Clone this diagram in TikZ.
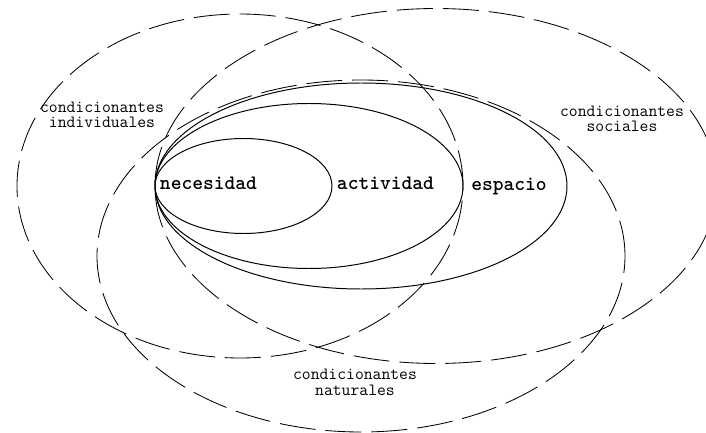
\documentclass[tikz,border=0pt]{standalone}
\usepackage{tikz}

\begin{document}
\begin{tikzpicture}[x=0.025cm,y=0.025cm,
  cond/.style={draw,line width=0.6pt,dash pattern=on 25.6pt off 7.1pt},
  zona/.style={draw,line width=0.7pt},
  tag/.style={align=center,anchor=base,inner sep=0pt,
              font=\ttfamily\fontsize{12.2}{11}\selectfont},
  key/.style={anchor=base,inner sep=0pt,font=\ttfamily\bfseries\fontsize{14.6}{16}\selectfont}]
  \useasboundingbox (0,0) rectangle (706,-433);
  % condicionantes
  \draw[cond] (240,-186) ellipse [x radius=223,y radius=172];
  \draw[cond] (436,-186) ellipse [x radius=281,y radius=177.5];
  \draw[cond] (361,-256) ellipse [x radius=264,y radius=176];
  % necesidad, actividad y espacio
  \draw[zona] (243.5,-186) ellipse [x radius=88.5,y radius=47.5];
  \draw[zona] (309,-186) ellipse [x radius=154,y radius=82.5];
  \draw[zona] (361,-186) ellipse [x radius=206,y radius=103];
  \node[key] (nec) at (208.5,-190) {necesidad};
  \node[key] (act) at (385.5,-190) {actividad};
  \node[key] (esp) at (509,-191) {espacio};
  \node[tag] (indiv) at (102,-128) {condicionantes\\individuales};
  \node[tag] (soc) at (622,-132) {condicionantes\\sociales};
  \node[tag] (nat) at (355,-395) {condicionantes\\naturales};
\end{tikzpicture}
\end{document}
